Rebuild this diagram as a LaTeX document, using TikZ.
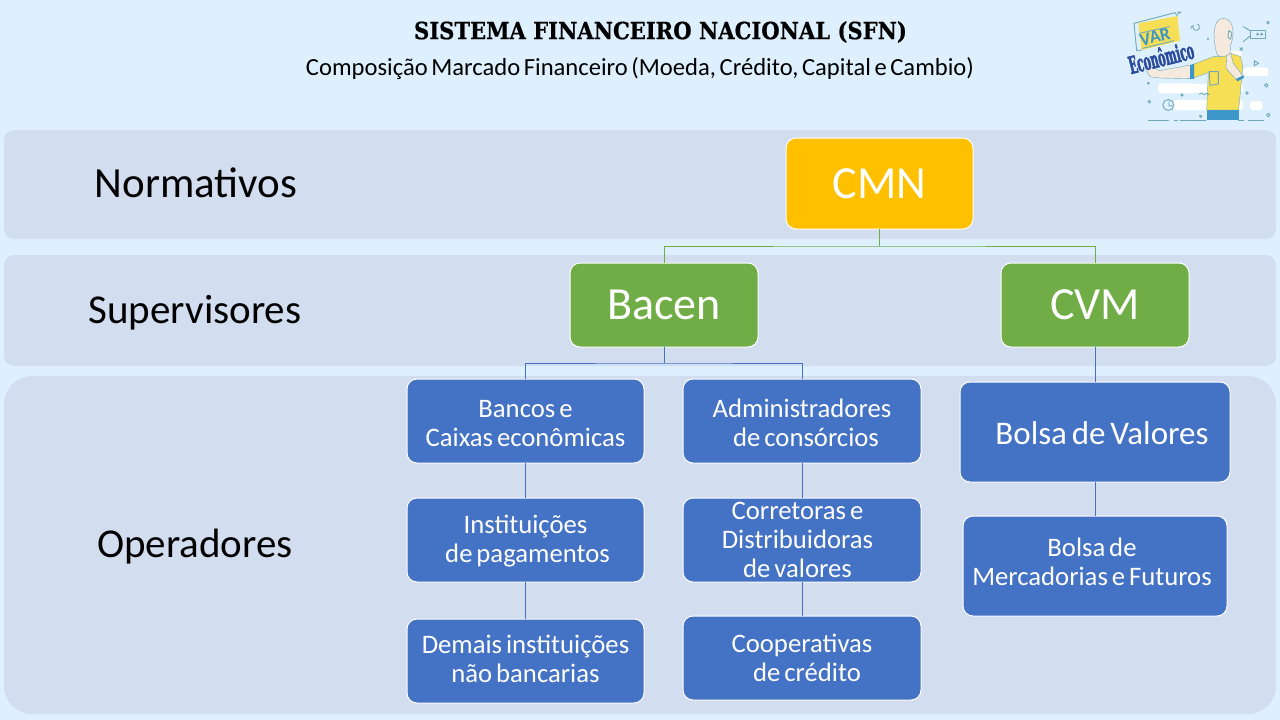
\documentclass[tikz,border=0pt]{standalone}
\usepackage{fontspec}
\setmainfont{Carlito}[WordSpace=0.65]
\newfontfamily\titlefont{DejaVu Serif}
\usetikzlibrary{calc}
\definecolor{bgc}{HTML}{DEF0FE}
\definecolor{band}{HTML}{D2DEEF}
\definecolor{ylw}{HTML}{FFC000}
\definecolor{grn}{HTML}{70AD47}
\definecolor{blu}{HTML}{4472C4}
\definecolor{figy}{HTML}{F7DF55}
\definecolor{figb}{HTML}{3C97C8}
\definecolor{figl}{HTML}{6FA8B8}
\definecolor{skin}{HTML}{F6EADF}
\definecolor{ecob}{HTML}{2A4A9C}
\newcommand{\fs}[1]{\fontsize{#1pt}{#1pt}\selectfont}
\newcommand{\cardlines}[2]{\raisebox{\dimexpr-6.7pt-#1pt\relax}[0pt][0pt]{\begin{tabular}[c]{@{}c@{}}#2\end{tabular}}}
\tikzset{
 x=1pt,y=-1pt,
 bandbox/.style={fill=band,draw=none},
 card/.style={draw=white,line width=1pt,rounded corners=10pt,outer sep=0pt,text=white,align=flush center,inner sep=0pt,anchor=north west},
 big/.style={card,font=\fs{46}},
 small/.style={card,fill=blu,font=\fs{26.7},text width=230pt},
 lab/.style={font=\fs{41},text=black,inner sep=0pt},
 glink/.style={draw=grn,line width=1pt},
 blink/.style={draw=blu,line width=1pt},
 fl/.style={draw=figl,line width=0.9pt},
 cloud/.style={fill=white,rounded corners=3pt},
}
\begin{document}
\begin{tikzpicture}
\useasboundingbox (0,0) rectangle (1280,720);
\fill[bgc] (0,0) rectangle (1280,720);
\fill[bandbox,rounded corners=10pt] (4,130) rectangle (1276,239);
\fill[bandbox,rounded corners=10pt] (4,255) rectangle (1276,366);
\fill[bandbox,rounded corners=28pt] (4,376) rectangle (1276,714);

\node[font=\titlefont\bfseries\fs{23.7}] (title) at (660.5,32) {\addfontfeature{FakeStretch=0.89,FakeBold=0.6}SISTEMA FINANCEIRO NACIONAL (SFN)};
\node[font=\fs{24.6}] (sub) at (640,68.5) {Composição Marcado Financeiro (Moeda, Crédito, Capital e Cambio)};

\node[lab,font=\fs{43}] (l1) at (196,183) {Normativos};
\node[lab] (l2) at (195,313) {Supervisores};
\node[lab] (l3) at (195,547) {Operadores};

\node[big,fill=ylw,minimum width=187pt,minimum height=91pt,text height=30pt,text depth=0pt] (cmn) at (786,138) {CMN};
\node[big,fill=grn,minimum width=188pt,minimum height=84pt] (bacen) at (570,263) {Bacen};
\node[big,fill=grn,minimum width=188pt,minimum height=84pt] (cvm) at (1001,263) {CVM};

\node[small,minimum width=237pt,minimum height=84pt] (bancos) at (407,379) {\cardlines{5}{Bancos e\\[2.3pt]Caixas econômicas}};
\node[small,minimum width=238pt,minimum height=84pt] (admin) at (683,379) {\cardlines{5}{Administradores\\[2.3pt]\hspace*{8pt}de consórcios}};
\node[small,minimum width=237pt,minimum height=84pt] (inst) at (407,498) {\cardlines{2}{Instituições\\[2.3pt]\hspace*{4pt}de pagamentos}};
\node[small,minimum width=238pt,minimum height=84pt] (corr) at (683,498) {\hspace*{-9pt}\cardlines{2.5}{Corretoras e\\[2.3pt]Distribuidoras\\[2.3pt]de valores}};
\node[small,minimum width=237pt,minimum height=84pt] (demais) at (407,619) {\cardlines{1.5}{Demais instituições\\[2.3pt]não bancarias}};
\node[small,minimum width=238pt,minimum height=84pt] (coop) at (683,616) {\cardlines{3.5}{Cooperativas\\[2.3pt]\hspace*{10pt}de crédito}};
\node[card,fill=blu,font=\fs{33},minimum width=270pt,minimum height=100pt] (bv) at (960,382) {\cardlines{5}{\hspace*{14pt}Bolsa de Valores}};
\node[small,text width=260pt,minimum width=264pt,minimum height=100pt] (bm) at (963,516) {\hspace*{-6pt}\cardlines{-1}{Bolsa de\\[2.3pt]Mercadorias e Futuros}};

\coordinate (g) at (879,246);
\coordinate (b) at (664,363);
\draw[glink] (cmn.south -| g) -- (g);
\draw[glink] (bacen.north -| cvm.north) |- (g) -| (bacen.north);
\draw[blink] (bacen.south -| b) -- (b);
\draw[blink] (bancos.north) |- (b) -| (admin.north);
\draw[blink] (bancos.south) -- (inst.north);
\draw[blink] (inst.south) -- (demais.north);
\draw[blink] (admin.south) -- (corr.north);
\draw[blink] (corr.south) -- (coop.north);
\draw[blink] (cvm.south) -- (bv.north -| cvm.south);
\draw[blink] (bv.south -| cvm.south) -- (bm.north -| cvm.south);

% illustration: coordinates are those of a 3x view with its corner at (1100,0)
\begin{scope}[shift={(1100,0)},x=0.3333pt,y=-0.3333pt,line cap=round,line join=round]
 \fill[cloud] (380,152) rectangle (425,175);
 \fill[cloud] (430,202) rectangle (505,228);
 \fill[cloud] (175,250) rectangle (285,280);
 \fill[cloud] (250,252) rectangle (430,278);
 \fill[cloud] (220,300) rectangle (430,330);
 \fill[cloud] (450,303) rectangle (487,330);
 % screen
 \fill[figy] (115,70) -- (232,48) -- (240,122) -- (125,150) -- cycle;
 \draw[fl] (102,70) -- (225,38) -- (232,48);
 \draw[fl] (102,70) -- (110,152) -- (125,150);
 \draw[fl] (118,100) -- (208,80);
 \draw[fl] (128,145) -- (222,122);
 \draw[fl] (234,42) -- (240,35) (232,36) -- (243,39);
 % pants
 \fill[figb] (322,330) -- (416,330) -- (416,360) -- (322,360) -- cycle;
 % shirt and arms
 \fill[skin,draw=figl] (178,212) -- (150,198) -- (136,205) -- (150,230) -- (180,234) -- (272,236) -- (272,195) -- cycle;
 \fill[figy,draw=figl] (340,170) -- (272,196) -- (270,237) -- (325,218) -- (320,330) -- (416,330) -- (428,200) -- (422,170) -- (392,160) -- (360,170) -- cycle;
 \fill[figb] (270,196) -- (282,192) -- (282,237) -- (270,237) -- cycle;
 \draw[fl] (328,215) -- (355,215) -- (355,252) -- (330,256) -- cycle;
 \fill[skin,draw=figl] (380,165) -- (378,205) -- (410,240) -- (430,230) -- (400,190) -- (392,160) -- cycle;
 \fill[figb] (408,237) -- (430,226) -- (432,234) -- (412,244) -- cycle;
 % head
 \fill[skin,draw=figl] (352,165) .. controls (338,125) and (335,55) .. (370,55) .. controls (402,55) and (405,105) .. (392,135) -- (390,160) .. controls (378,172) and (362,172) .. (352,165) -- cycle;
 \draw[fl,fill=skin] (386,92) -- (396,98) -- (392,118) -- (384,112) -- cycle;
 % ground line
 \draw[fl] (145,360) -- (205,360) (222,360) -- (232,360) (240,360) -- (318,360) (416,360) -- (432,360) (445,360) -- (490,360);
 % clock
 \draw[fl] (205,315) circle (5.5pt);
 \draw[fl] (207,305) -- (207,317) -- (217,318);
 % camera
 \draw[fl] (430,80) -- (450,92) (430,125) -- (450,108);
 \draw[fl] (452,92) rectangle (495,115);
 \fill[figl] (473,103) circle (1.5pt) (485,103) circle (1.5pt);
 % small marks
 \draw[fl] (292,72) arc (-70:215:10) (276,78) -- (273,85);
 \draw[fl] (504,68) circle (1.4pt) (499,256) circle (1.8pt) (505,345) circle (1.8pt) (441,279) circle (1.2pt) (148,305) circle (1.4pt) (246,285) circle (1.2pt) (302,349) circle (1.2pt);
 \fill[figl] (324,117) circle (1.2pt) (145,250) circle (1.5pt);
 \draw[fl] (420,143) -- (428,151) (428,143) -- (420,151);
 \draw[fl] (463,182) -- (476,190) -- (463,197) -- cycle;
 \draw[fl] (298,283) -- (305,279) -- (312,284) -- (320,280) -- (328,284);
\end{scope}
\node[font=\bfseries\fs{18},text=figb,rotate=13,inner sep=0pt] (var) at (1155,37) {VAR};
\node[font=\titlefont\bfseries\fs{24},text=ecob,rotate=14,inner sep=0pt] (eco) at (1161,57) {\addfontfeature{FakeStretch=0.45,FakeBold=1.5}Econômico};
\end{tikzpicture}
\end{document}
